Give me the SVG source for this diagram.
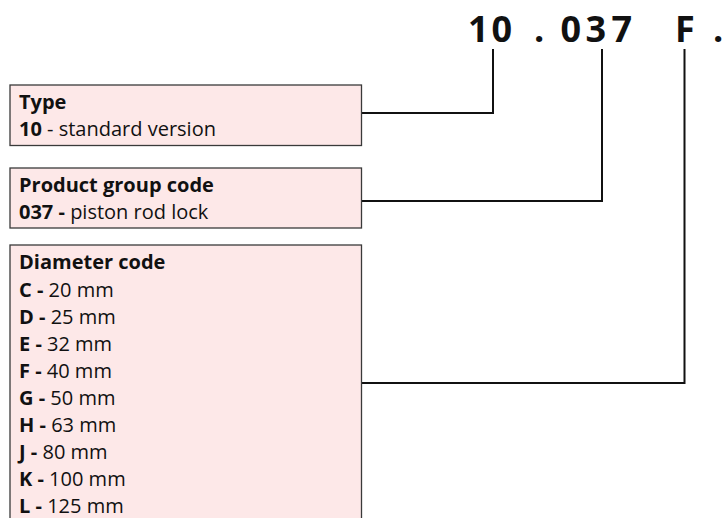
<svg xmlns="http://www.w3.org/2000/svg" width="722" height="518" viewBox="0 0 722 518">
  <style>
    .box { fill: #fde8e8; stroke: #3a3a3a; stroke-width: 1.3; }
    .t { font-family: "Open Sans", "Liberation Sans", sans-serif; font-size: 20px; fill: #111; }
    .b { font-weight: bold; }
    .title { font-family: "Open Sans", "Liberation Sans", sans-serif; font-size: 36px; font-weight: bold; fill: #111; }
    .conn { fill: none; stroke: #111; stroke-width: 2; }
  </style>
  <rect width="722" height="518" fill="#ffffff"/>
  <g id="code">
    <text class="title" x="468 491.5 534 560.5 585.5 611.5 675 713" y="41.7">10.037F.</text>
  </g>
  <g id="connectors">
    <polyline class="conn" points="361.5,113 493,113 493,49"/>
    <polyline class="conn" points="361.5,201 602,201 602,49"/>
    <polyline class="conn" points="361.5,383 684.5,383 684.5,49"/>
  </g>
  <g id="type">
    <rect class="box" x="10" y="85" width="351.5" height="60.5"/>
    <text class="t b" x="19" y="109">Type</text>
    <text class="t" x="19" y="136"><tspan class="b">10</tspan> - standard version</text>
  </g>
  <g id="group">
    <rect class="box" x="10" y="168" width="351.5" height="60"/>
    <text class="t b" x="19" y="192">Product group code</text>
    <text class="t" x="19" y="219"><tspan class="b">037 -</tspan> piston rod lock</text>
  </g>
  <g id="diameter">
    <rect class="box" x="10" y="245" width="351.5" height="290"/>
    <text class="t b" x="19" y="269">Diameter code</text>
    <text class="t" x="19" y="297"><tspan class="b">C -</tspan> 20 mm</text>
    <text class="t" x="19" y="324"><tspan class="b">D -</tspan> 25 mm</text>
    <text class="t" x="19" y="351"><tspan class="b">E -</tspan> 32 mm</text>
    <text class="t" x="19" y="378"><tspan class="b">F -</tspan> 40 mm</text>
    <text class="t" x="19" y="405"><tspan class="b">G -</tspan> 50 mm</text>
    <text class="t" x="19" y="432"><tspan class="b">H -</tspan> 63 mm</text>
    <text class="t" x="19" y="459"><tspan class="b">J -</tspan> 80 mm</text>
    <text class="t" x="19" y="486"><tspan class="b">K -</tspan> 100 mm</text>
    <text class="t" x="19" y="513"><tspan class="b">L -</tspan> 125 mm</text>
  </g>
</svg>
